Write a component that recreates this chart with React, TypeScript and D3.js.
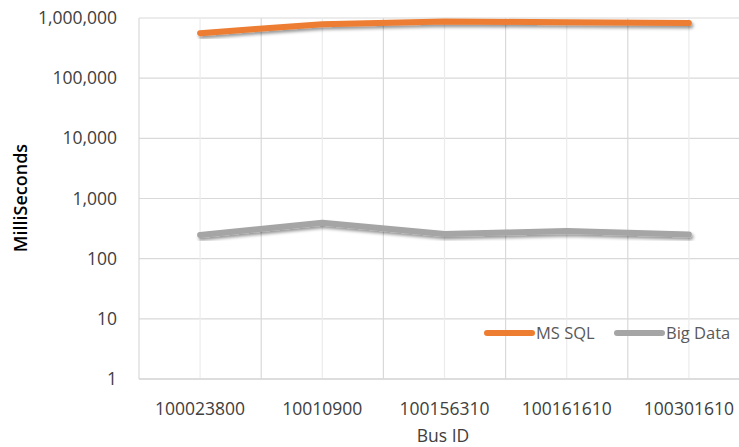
import React, { useEffect, useRef } from 'react';
import * as d3 from 'd3';

const busIds = ['100023800', '10010900', '100156310', '100161610', '100301610'];
const msSql = [560000, 790000, 875000, 850000, 825000];
const bigData = [248, 394, 257, 288, 252];
const seriesNames = ['MS SQL', 'Big Data'];
const seriesColors = ['#ED7D31', '#A5A5A5'];
const yTicks = [1, 10, 100, 1000, 10000, 100000, 1000000];

const W = 739, H = 447;
const FONT = '"Open Sans", "Liberation Sans", sans-serif';

export default function App() {
    const ref = useRef<SVGSVGElement>(null);

    useEffect(() => {
        const svg = d3.select(ref.current);
        svg.selectAll('*').remove();

        const left = 139, right = 750, top = 18, bottom = 379;

        // x比例尺 (category bands)
        const xScale = d3.scaleBand<string>()
            .domain(busIds)
            .range([left, right])
            .padding(0);
        const cx = (d: string) => (xScale(d) as number) + xScale.bandwidth() / 2;

        // y比例尺 (log)
        const yScale = d3.scaleLog()
            .domain([1, 1000000])
            .range([bottom, top]);

        const defs = svg.append('defs');
        const f = defs.append('filter').attr('id', 'shadow')
            .attr('x', '-10%').attr('y', '-50%').attr('width', '120%').attr('height', '200%');
        f.append('feDropShadow')
            .attr('dx', 1.5).attr('dy', 2.5).attr('stdDeviation', 1.8)
            .attr('flood-color', '#000').attr('flood-opacity', 0.4);

        const grid = svg.append('g');
        // horizontal gridlines
        grid.selectAll('.hg').data(yTicks).enter().append('line')
            .attr('x1', left).attr('x2', W)
            .attr('y1', d => yScale(d)).attr('y2', d => yScale(d))
            .attr('stroke', '#d9d9d9').attr('stroke-width', 1.2);
        // light gridlines at category centers
        grid.selectAll('.vc').data(busIds).enter().append('line')
            .attr('x1', cx).attr('x2', cx)
            .attr('y1', top).attr('y2', bottom)
            .attr('stroke', '#ececec').attr('stroke-width', 1.2);
        // darker gridlines at band boundaries
        const bounds = busIds.map(d => xScale(d) as number).concat([right]);
        grid.selectAll('.vb').data(bounds).enter().append('line')
            .attr('x1', d => d).attr('x2', d => d)
            .attr('y1', top).attr('y2', bottom)
            .attr('stroke', '#d9d9d9').attr('stroke-width', 1.2);
        grid.append('line')
            .attr('x1', left).attr('x2', W).attr('y1', bottom).attr('y2', bottom)
            .attr('stroke', '#d9d9d9').attr('stroke-width', 1.5);

        // y tick labels
        svg.append('g').selectAll('text').data(yTicks).enter().append('text')
            .attr('x', 117).attr('y', d => yScale(d))
            .attr('dy', '0.35em')
            .attr('text-anchor', 'end')
            .attr('font-family', FONT).attr('font-size', 17.5)
            .attr('fill', '#404040')
            .text(d => d3.format(',')(d));

        // x tick labels
        svg.append('g').selectAll('text').data(busIds).enter().append('text')
            .attr('x', cx).attr('y', 415)
            .attr('text-anchor', 'middle')
            .attr('font-family', FONT).attr('font-size', 17.5)
            .attr('fill', '#404040')
            .text(d => d);

        // axis titles
        svg.append('text')
            .attr('x', 443).attr('y', 442)
            .attr('text-anchor', 'middle')
            .attr('font-family', FONT).attr('font-size', 17.5)
            .attr('fill', '#404040')
            .text('Bus ID');
        svg.append('text')
            .attr('transform', 'translate(27,198) rotate(-90)')
            .attr('text-anchor', 'middle')
            .attr('font-family', FONT).attr('font-size', 18).attr('font-weight', 600)
            .attr('fill', '#000')
            .text('MilliSeconds');

        // lines
        const line = d3.line<number>()
            .x((d, i) => cx(busIds[i]))
            .y(d => yScale(d));
        [msSql, bigData].forEach((s, i) => {
            svg.append('path')
                .attr('d', line(s))
                .attr('fill', 'none')
                .attr('stroke', seriesColors[i])
                .attr('stroke-width', 6)
                .attr('stroke-linecap', 'round')
                .attr('stroke-linejoin', 'round')
                .attr('filter', 'url(#shadow)');
        });

        // legend
        const legendX = [487, 617];
        const lg = svg.append('g');
        seriesNames.forEach((n, i) => {
            lg.append('line')
                .attr('x1', legendX[i]).attr('x2', legendX[i] + 45)
                .attr('y1', 333).attr('y2', 333)
                .attr('stroke', seriesColors[i]).attr('stroke-width', 6)
                .attr('stroke-linecap', 'round');
            lg.append('text')
                .attr('x', legendX[i] + 49).attr('y', 333).attr('dy', '0.35em')
                .attr('font-family', FONT).attr('font-size', 16.5)
                .attr('fill', '#595959')
                .text(n);
        });
    }, []);

    return (
        <svg ref={ref} width={W} height={H}
             style={{ position: 'absolute', left: 0, top: 0, background: '#fff' }} />
    );
}
